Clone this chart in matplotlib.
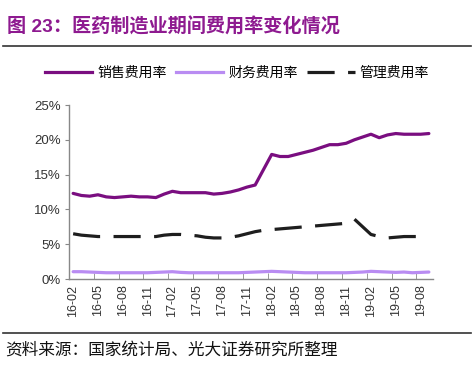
import matplotlib
matplotlib.use("Agg")
import matplotlib.pyplot as plt
from matplotlib.lines import Line2D

plt.rcParams['font.family'] = ['Liberation Sans', 'Noto Sans CJK SC', 'DejaVu Sans']

months = []
for y in range(16, 20):
    for m in range(1, 13):
        months.append(f"{y}-{m:02d}")
months = months[months.index("16-02"):months.index("19-09") + 1]

sales = [12.3, 12.0, 11.9, 12.1, 11.8, 11.7, 11.8, 11.9, 11.8, 11.8, 11.7,
         12.2, 12.6, 12.4, 12.4, 12.4, 12.4, 12.2, 12.3, 12.5, 12.8, 13.2,
         13.5, 15.7, 17.9, 17.6, 17.6, 17.9, 18.2, 18.5, 18.9, 19.3, 19.3,
         19.5, 20.0, 20.4, 20.8, 20.3, 20.7, 20.9, 20.8, 20.8, 20.8, 20.9]
finance = [1.05, 1.05, 1.0, 0.95, 0.9, 0.9, 0.9, 0.9, 0.9, 0.9, 0.95,
           1.0, 1.05, 0.95, 0.9, 0.9, 0.9, 0.9, 0.9, 0.9, 0.9, 0.95,
           1.0, 1.05, 1.1, 1.05, 1.0, 0.95, 0.9, 0.9, 0.9, 0.9, 0.9,
           0.9, 0.95, 1.0, 1.1, 1.05, 1.0, 0.95, 1.0, 0.9, 0.95, 1.0]
manage = [6.5, 6.3, 6.2, 6.1, 6.1, 6.1, 6.1, 6.1, 6.1, 6.1, 6.1,
          6.3, 6.4, 6.4, 6.3, 6.2, 6.0, 5.9, 5.9, 6.0, 6.2, 6.5,
          6.8, 7.0, 7.1, 7.2, 7.3, 7.4, 7.5, 7.6, 7.7, 7.8, 7.9,
          8.0, 8.6, 7.5, 6.4, 6.1, 5.9, 6.0, 6.1, 6.1, 6.1, 6.1]

series_names = ["销售费用率", "财务费用率", "管理费用率"]
yticks = [0, 5, 10, 15, 20, 25]

fig = plt.figure(figsize=(4.74, 3.65), dpi=100)
ax = fig.add_axes([69/474, 1-279/365, (433-69)/474, (279-105)/365])

x = list(range(len(months)))
ax.plot(x, sales, color='#7A0E80', lw=2.3, solid_capstyle='round', zorder=3)
ax.plot(x, finance, color='#B98CF2', lw=2.3, solid_capstyle='round', zorder=2)
ax.plot(x, manage, color='#1E1E1E', lw=2.3, dashes=(8.5, 4.2), zorder=3)

ax.set_xlim(-0.5, len(months) - 0.5)
ax.set_ylim(0, 25)
ax.set_yticks(yticks)
ax.set_yticklabels([f"{v}%" for v in yticks], fontsize=9.5, color='#333333')
ax.set_xticks(x[::3])
ax.set_xticklabels(months[::3], rotation=90, fontsize=9, color='#333333')
ax.set_xticks([i - 0.5 for i in range(0, len(months) + 1, 3)], minor=True)
ax.tick_params(axis='x', which='major', length=0, pad=4)
ax.tick_params(axis='x', which='minor', direction='in', length=4, color='#888888')
ax.tick_params(axis='y', direction='out', length=3, color='#888888', pad=3)
for s in ['top', 'right']:
    ax.spines[s].set_visible(False)
for s in ['left', 'bottom']:
    ax.spines[s].set_color('#888888')
    ax.spines[s].set_linewidth(1.0)

handles = [Line2D([], [], color='#7A0E80', lw=2.3),
           Line2D([], [], color='#B98CF2', lw=2.3),
           Line2D([], [], color='#1E1E1E', lw=2.3, dashes=(8.5, 4.2))]
fig.legend(handles, series_names, loc='center', bbox_to_anchor=(0.5, 1-73/365),
           ncol=3, frameon=False, handlelength=3.4,
           handletextpad=0.35, columnspacing=0.7,
           prop={'family': ['Noto Sans CJK SC'], 'size': 10})

fig.text(7/474, 1-27/365, "图 23：医药制造业期间费用率变化情况", fontsize=13.8,
         fontweight='bold', color='#8E1A90', va='center', ha='left',
         family=['Liberation Sans', 'Noto Sans CJK SC'])
fig.add_artist(Line2D([3/474, 471/474], [1-46/365, 1-46/365], color='#333333', lw=1.2))
fig.add_artist(Line2D([3/474, 471/474], [1-333/365, 1-333/365], color='#333333', lw=1.2))
fig.text(5/474, 1-350/365, "资料来源：国家统计局、光大证券研究所整理", fontsize=12,
         color='#111111', va='center', ha='left', family=['Noto Sans CJK SC'])

fig.savefig("out.png", dpi=100)
